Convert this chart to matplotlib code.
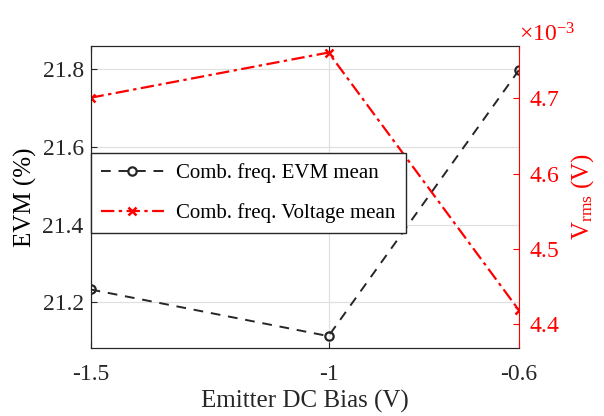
import numpy as np
import matplotlib
matplotlib.use("Agg")
import matplotlib.pyplot as plt
from matplotlib.ticker import ScalarFormatter

bias = [-1.5, -1.0, -0.6]
evm_mean = [21.233, 21.113, 21.797]
volt_mean = [4.701e-3, 4.761e-3, 4.419e-3]
xtick_labels = ["-1.5", "-1", "-0.6"]

plt.rcParams['font.family'] = ['Liberation Serif', 'DejaVu Serif']
plt.rcParams['mathtext.fontset'] = 'custom'
plt.rcParams['mathtext.rm'] = 'Liberation Serif'
plt.rcParams['mathtext.it'] = 'Liberation Serif:italic'
plt.rcParams['axes.unicode_minus'] = False

dark = (0.15, 0.15, 0.15)
red = (1.0, 0.0, 0.0)

fig = plt.figure(figsize=(6.04, 4.16), dpi=100)
ax = fig.add_axes([0.150, 0.164, 0.709, 0.726])
ax2 = ax.twinx()

l1, = ax.plot(bias, evm_mean, color=dark, linestyle=(0, (5, 4)), linewidth=1.4,
              marker='o', markersize=6, markerfacecolor='none', markeredgewidth=1.6,
              label='Comb. freq. EVM mean')
l2, = ax2.plot(bias, volt_mean, color=red, linestyle=(0, (6, 2, 1.5, 2)), linewidth=1.6,
               marker='x', markersize=6, markeredgewidth=1.8,
               label='Comb. freq. Voltage mean')

ax.set_xlim(-1.5, -0.6)
ax.set_ylim(21.083, 21.86)
ax2.set_ylim(4.369e-3, 4.77e-3)

ax.set_xticks(bias)
ax.set_xticklabels(xtick_labels)
ax.set_yticks([21.2, 21.4, 21.6, 21.8])
ax.set_yticklabels(["21.2", "21.4", "21.6", "21.8"])
ax2.set_yticks([4.4e-3, 4.5e-3, 4.6e-3, 4.7e-3])

fmt = ScalarFormatter(useMathText=True)
fmt.set_powerlimits((-2, 2))
ax2.yaxis.set_major_formatter(fmt)

ax.grid(True, color=(0.88, 0.88, 0.88), linewidth=0.9)
ax.set_axisbelow(True)

ax.tick_params(axis='both', direction='in', length=4, colors=dark, labelsize=17, top=True)
ax.tick_params(axis='x', pad=12)
ax.tick_params(axis='y', pad=5)
ax2.tick_params(axis='y', direction='in', length=4, colors=red, labelsize=17, pad=7)
off = ax2.yaxis.get_offset_text()
off.set_fontsize(17)
off.set_color(red)
off.set_horizontalalignment('left')

for s in ['left', 'top', 'bottom']:
    ax.spines[s].set_color(dark)
    ax2.spines[s].set_color(dark)
ax2.spines['right'].set_color(red)
ax.spines['right'].set_visible(False)

ax.set_xlabel('Emitter DC Bias (V)', fontsize=18, color=dark, labelpad=3)
ax.set_ylabel('EVM (%)', fontsize=18, color='black', labelpad=4)
ax2.set_ylabel(r'V$_{\mathrm{rms}}$ (V)', fontsize=18, color=red, labelpad=7)

leg = ax2.legend(handles=[l1, l2], loc='upper left', bbox_to_anchor=(0.0, 0.645),
                 fontsize=15, frameon=True, fancybox=False, handlelength=3.0,
                 borderpad=0.5, labelspacing=0.95, handletextpad=0.6, borderaxespad=0,
                 framealpha=1)
leg.get_frame().set_edgecolor(dark)
leg.get_frame().set_linewidth(1.0)

fig.savefig('out.png', dpi=100)
